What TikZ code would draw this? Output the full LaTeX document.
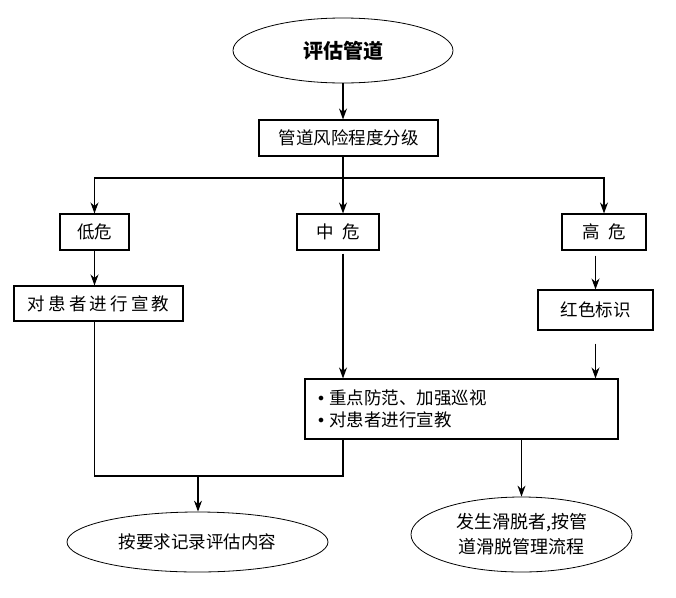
\documentclass[tikz,border=0pt]{standalone}
\usepackage{fontspec}
\setmainfont{Noto Sans CJK SC}
\usepackage{tikz}
\usetikzlibrary{arrows.meta,shapes,positioning}

\newcommand{\itemdot}{\raisebox{3.5pt}{\fontsize{12}{12}\selectfont$\bullet$}\hspace{5pt}}

\begin{document}
\begin{tikzpicture}[x=1pt, y=-1pt, >={Stealth[length=11pt, width=8pt]}, line width=1.1pt,
  every node/.style={font=\fontsize{17.5}{22}\selectfont, inner sep=0pt},
  box/.style={draw, rectangle, minimum height=36pt},
  oval/.style={draw, ellipse, line width=0.8pt}]
  \useasboundingbox (0,0) rectangle (676,597);

  % Top
  \node[oval, minimum width=220pt, minimum height=65pt, font=\fontsize{20}{24}\selectfont\bfseries] (start) at (343,50.5) {评估管道};
  \node[box, minimum width=179pt] (grade) at (348.5,138) {管道风险程度分级};
  \coordinate (split) at (343,178);

  % Levels
  \node[box, minimum width=69pt] (low) at (94.5,232) {低危};
  \node[box, minimum width=82pt] (mid) at (338,232) {中\hspace{8pt}危};
  \node[box, minimum width=84pt] (high) at (604,232) {高\hspace{8pt}危};

  \node[box, minimum width=169pt, minimum height=35pt] (teach) at (98.5,303.5) {\addfontfeatures{LetterSpace=18}对患者进行宣教};
  \node[box, minimum width=115pt, minimum height=40pt] (red) at (595.5,310) {红色标识};
  \node[box, minimum width=313pt, minimum height=60pt, text width=287pt, align=left] (care) at (461.5,409) {\itemdot 重点防范、加强巡视\\\itemdot 对患者进行宣教};

  % Bottom
  \coordinate (join) at (198,476);
  \node[oval, minimum width=261pt, minimum height=60pt] (record) at (197.5,542) {按要求记录评估内容};
  \node[oval, minimum width=221pt, minimum height=75pt, align=center, font=\fontsize{18}{25}\selectfont] (slip) at (521.5,534.5) {发生滑脱者,按管\\道滑脱管理流程};

  \draw[->] (start.south) -- (start.south |- grade.north);
  \draw (split |- grade.south) -- (split);
  \draw[->] (split) -- (split |- mid.north);
  \draw[->] (split) -| (low.north);
  \draw[->] (split) -| (high.north);

  \draw[->] (low.south) -- (low.south |- teach.north);
  \draw[->, shorten <=5pt] (red.north |- high.south) -- (red.north);
  \draw[->, shorten <=3pt] (split |- mid.south) -- (split |- care.north);
  \draw[->, shorten <=13pt] (red.south) -- (red.south |- care.north);

  \draw (low.south |- teach.south) |- (join) -| (split |- care.south);
  \draw[->] (join) -- (join |- record.north);
  \draw[->] (slip.north |- care.south) -- (slip.north);
\end{tikzpicture}
\end{document}
